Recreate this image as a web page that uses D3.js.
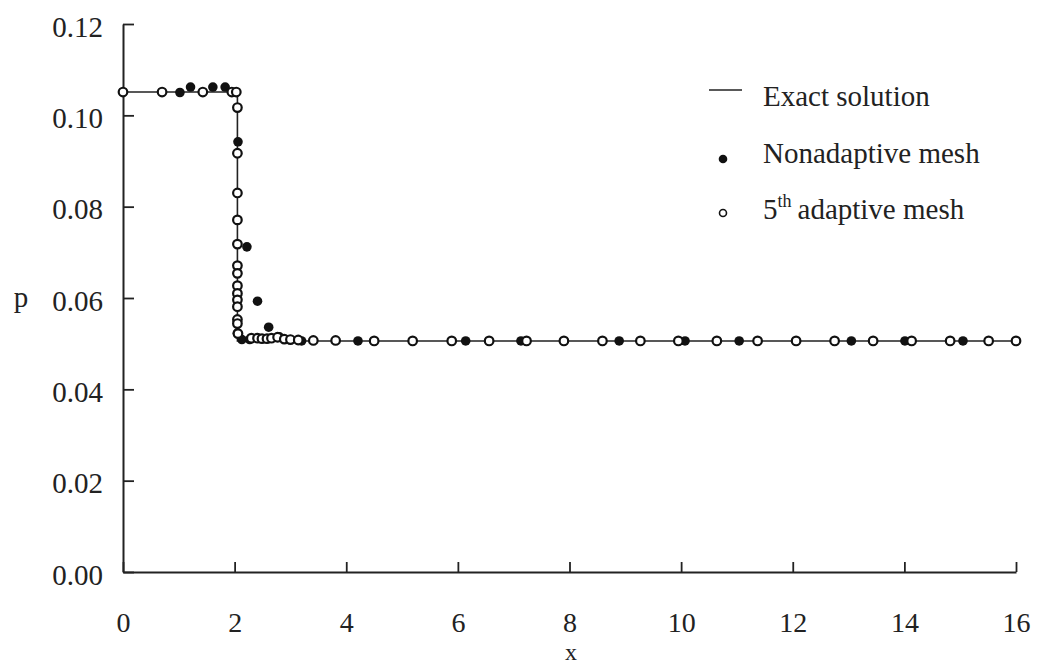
<!DOCTYPE html>
<html>
<head>
<meta charset="utf-8">
<script src="https://cdn.jsdelivr.net/npm/d3@7"></script>
<style>
  html, body { margin: 0; padding: 0; background: #fff; }
  svg { display: block; }
  text { font-family: "Liberation Serif", "Times New Roman", serif; fill: #222; }
</style>
</head>
<body>
<svg id="chart" width="1039" height="665"></svg>
<script>
// Exact pressure profile: plateau, shock near x = 2.05, then constant state
const exactX = [0, 2.05, 2.05, 16];
const exactP = [0.1051, 0.1051, 0.0506, 0.0506];

// Nonadaptive mesh nodes
const nonAdaptX = [1.02, 1.21, 1.61, 1.83, 2.06, 2.22, 2.41, 2.61, 2.05, 2.13, 2.27, 2.80,
                   3.20, 4.21, 6.14, 7.13, 8.89, 10.07, 11.04, 13.05, 14.01, 15.05];
const nonAdaptP = [0.1050, 0.1062, 0.1062, 0.1062, 0.0942, 0.0712, 0.0593, 0.0536, 0.0523, 0.0509, 0.0509, 0.0515,
                   0.0506, 0.0506, 0.0506, 0.0506, 0.0506, 0.0506, 0.0506, 0.0506, 0.0506, 0.0506];

// 5th adaptive mesh nodes
const adaptX = [0, 0.70, 1.43, 1.95, 2.03,
                2.05, 2.05, 2.05, 2.05, 2.05, 2.05, 2.05, 2.05, 2.05, 2.05, 2.05, 2.05, 2.05, 2.06,
                2.30, 2.41, 2.49, 2.58, 2.66, 2.77, 2.89, 3.00, 3.14,
                3.41, 3.81, 4.50, 5.19, 5.89, 6.56, 7.23, 7.90, 8.59, 9.27, 9.95,
                10.64, 11.37, 12.06, 12.75, 13.44, 14.13, 14.82, 15.51, 16.0];
const adaptP = [0.1051, 0.1051, 0.1051, 0.1051, 0.1051,
                0.1017, 0.0917, 0.0830, 0.0771, 0.0718, 0.0671, 0.0654, 0.0627, 0.0610, 0.0596, 0.0581, 0.0553, 0.0544, 0.0522,
                0.0512, 0.0512, 0.0511, 0.0511, 0.0512, 0.0514, 0.0510, 0.0509, 0.0508,
                0.0507, 0.0507, 0.0506, 0.0506, 0.0506, 0.0506, 0.0506, 0.0506, 0.0506, 0.0506, 0.0506,
                0.0506, 0.0506, 0.0506, 0.0506, 0.0506, 0.0506, 0.0506, 0.0506, 0.0506];

const xTicks = [0, 2, 4, 6, 8, 10, 12, 14, 16];
const yTicks = [0.00, 0.02, 0.04, 0.06, 0.08, 0.10, 0.12];

const legendLabels = ["Exact solution", "Nonadaptive mesh", "adaptive mesh"];

const serif = "'Liberation Serif', 'Times New Roman', serif";
const svg = d3.select("#chart");
const ink = "#222";

const x = d3.scaleLinear().domain([0, 16]).range([123, 1016]);
const y = d3.scaleLinear().domain([0, 0.12]).range([572, 24]);

// Axes with inward ticks
const xAxis = svg.append("g")
  .attr("transform", `translate(0,${y(0)})`)
  .call(d3.axisBottom(x).tickValues(xTicks).tickSizeInner(-10).tickSizeOuter(0).tickFormat(d3.format("d")))
  .attr("font-family", serif).attr("font-size", 28);
xAxis.select(".domain").attr("stroke", ink).attr("stroke-width", 2);
xAxis.selectAll(".tick line").attr("stroke", ink).attr("stroke-width", 1.8);
xAxis.selectAll(".tick text")
  .attr("y", 60).attr("dy", null).attr("fill", ink);

const yAxis = svg.append("g")
  .attr("transform", `translate(${x(0)},0)`)
  .call(d3.axisLeft(y).tickValues(yTicks).tickSizeInner(-11).tickSizeOuter(0).tickFormat(d3.format(".2f")))
  .attr("font-family", serif).attr("font-size", 29);
yAxis.select(".domain").attr("stroke", ink).attr("stroke-width", 2);
yAxis.selectAll(".tick line").attr("stroke", ink).attr("stroke-width", 1.8);
yAxis.selectAll(".tick text")
  .attr("x", -20).attr("dy", null).attr("y", 12).attr("fill", ink);

// Axis titles
svg.append("text").attr("x", 571).attr("y", 659.5).attr("text-anchor", "middle")
  .style("font-size", "24px").text("x");
svg.append("text").attr("x", 21).attr("y", y(0.06) + 9).attr("text-anchor", "middle")
  .style("font-size", "29px").text("p");

// Exact solution
const line = d3.line().x(d => x(d[0])).y(d => y(d[1]));
svg.append("path")
  .datum(exactX.map((v, i) => [v, exactP[i]]))
  .attr("d", line).attr("fill", "none").attr("stroke", ink).attr("stroke-width", 1.6);

// Nonadaptive mesh (filled)
svg.append("g").selectAll("circle")
  .data(nonAdaptX.map((v, i) => [v, nonAdaptP[i]]))
  .join("circle")
  .attr("cx", d => x(d[0])).attr("cy", d => y(d[1])).attr("r", 4.8)
  .attr("fill", "#111");

// 5th adaptive mesh (open)
svg.append("g").selectAll("circle")
  .data(adaptX.map((v, i) => [v, adaptP[i]]))
  .join("circle")
  .attr("cx", d => x(d[0])).attr("cy", d => y(d[1])).attr("r", 4.3)
  .attr("fill", "#fff").attr("stroke", "#111").attr("stroke-width", 2.2);

// Legend
const lg = svg.append("g");
lg.append("line").attr("x1", 709).attr("x2", 742).attr("y1", 90).attr("y2", 90)
  .attr("stroke", ink).attr("stroke-width", 1.6);
lg.append("text").attr("x", 763).attr("y", 106).style("font-size", "29px").text(legendLabels[0]);
lg.append("circle").attr("cx", 723).attr("cy", 159).attr("r", 4.3).attr("fill", "#111");
lg.append("text").attr("x", 763).attr("y", 163).style("font-size", "29px").text(legendLabels[1]);
lg.append("circle").attr("cx", 723).attr("cy", 213).attr("r", 3.5)
  .attr("fill", "#fff").attr("stroke", "#111").attr("stroke-width", 1.6);
const t3 = lg.append("text").attr("x", 763).attr("y", 219).style("font-size", "29px");
t3.append("tspan").text("5");
t3.append("tspan").attr("dy", -12).style("font-size", "18px").text("th");
t3.append("tspan").attr("dy", 12).attr("dx", 6).text(legendLabels[2]);
</script>
</body>
</html>
